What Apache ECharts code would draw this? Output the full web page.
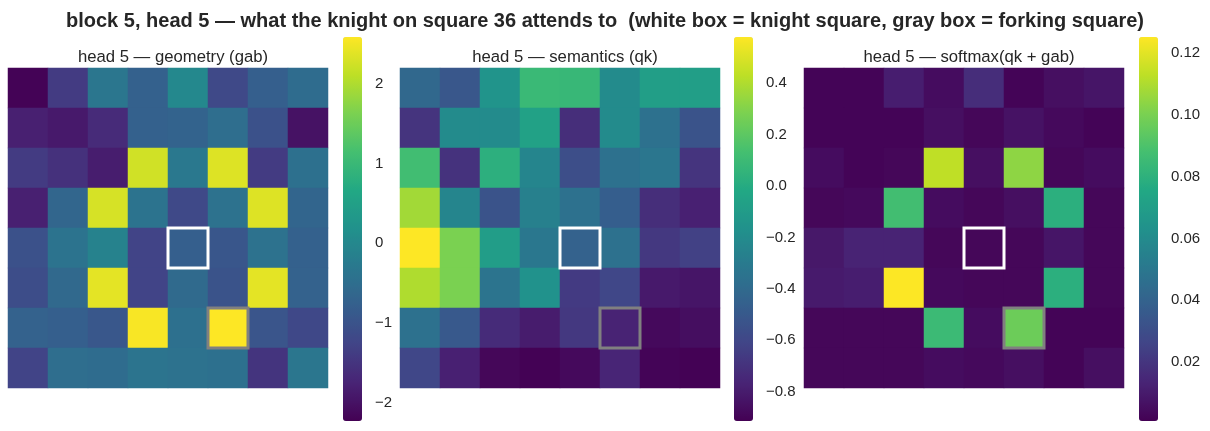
<!DOCTYPE html>
<html lang="en">

<head>
    <meta charset="UTF-8">
    <title>block 5, head 5 — knight attention</title>
    <script src="https://cdn.jsdelivr.net/npm/echarts@6/dist/echarts.min.js"></script>
</head>
<style>
    body {
        margin: 0;
        background: #fff;
    }

    .box {
        width: 1210px;
        height: 431px;
    }
</style>

<body>
    <div class="box" id="myChart"></div>
    <script>
        // 8x8 grids, row 0 at the top
        const geometry = [
            [-2.20, -1.40, -0.35, -0.74, 0.00, -1.17, -0.78, -0.54],
            [-1.80, -1.90, -1.65, -0.74, -0.70, -0.50, -1.03, -2.00],
            [-1.40, -1.55, -1.85, 2.25, -0.30, 2.35, -1.40, -0.45],
            [-1.80, -0.65, 2.30, -0.40, -1.17, -0.42, 2.35, -0.67],
            [-1.03, -0.40, -0.10, -1.27, -0.78, -0.95, -0.42, -0.74],
            [-1.10, -0.60, 2.40, -1.27, -0.58, -1.00, 2.40, -0.72],
            [-0.72, -0.78, -0.93, 2.55, -0.45, 2.59, -0.97, -1.20],
            [-1.27, -0.50, -0.54, -0.38, -0.42, -0.45, -1.50, -0.35]
        ];
        const semantics = [
            [-0.41, -0.51, -0.15, 0.09, 0.08, -0.20, -0.08, -0.08],
            [-0.69, -0.20, -0.20, -0.06, -0.72, -0.20, -0.36, -0.53],
            [0.12, -0.70, 0.03, -0.24, -0.56, -0.36, -0.33, -0.69],
            [0.37, -0.24, -0.53, -0.27, -0.36, -0.47, -0.72, -0.78],
            [0.58, 0.28, -0.09, -0.32, -0.45, -0.36, -0.67, -0.63],
            [0.40, 0.28, -0.34, -0.16, -0.66, -0.60, -0.81, -0.83],
            [-0.36, -0.50, -0.73, -0.80, -0.67, -0.77, -0.88, -0.86],
            [-0.60, -0.78, -0.89, -0.91, -0.88, -0.76, -0.90, -0.91]
        ];
        const softmax = [
            [0.002, 0.002, 0.011, 0.005, 0.017, 0.002, 0.006, 0.008],
            [0.002, 0.002, 0.002, 0.006, 0.003, 0.007, 0.004, 0.002],
            [0.005, 0.002, 0.003, 0.113, 0.006, 0.104, 0.003, 0.005],
            [0.003, 0.004, 0.087, 0.005, 0.003, 0.006, 0.079, 0.003],
            [0.009, 0.013, 0.013, 0.003, 0.003, 0.003, 0.008, 0.003],
            [0.010, 0.011, 0.125, 0.004, 0.003, 0.003, 0.079, 0.003],
            [0.003, 0.003, 0.003, 0.085, 0.005, 0.097, 0.002, 0.002],
            [0.003, 0.003, 0.003, 0.005, 0.004, 0.006, 0.002, 0.006]
        ];
        // colour scale ranges and colourbar ticks
        const ranges = [[-2.23, 2.59], [-0.914, 0.58], [0.001, 0.1251]];
        const cbTicks = [
            [-2, -1, 0, 1, 2],
            [-0.8, -0.6, -0.4, -0.2, 0.0, 0.2, 0.4],
            [0.02, 0.04, 0.06, 0.08, 0.10, 0.12]
        ];
        const cbDigits = [0, 1, 2];
        const panelTitles = ['head 5 — geometry (gab)', 'head 5 — semantics (qk)', 'head 5 — softmax(qk + gab)'];
        const knightCell = [[4, 4]]; // [col, row]
        const forkCell = [[5, 6]];

        const viridis = ['#440154', '#482475', '#414487', '#355f8d', '#2a788e', '#21918c',
            '#22a884', '#44bf70', '#7ad151', '#bddf26', '#fde725'];
        const font = 'Liberation Sans, Arial, sans-serif';
        const ink = '#262626';

        const mapLeft = [8, 400, 804];
        const barLeft = [343, 734, 1139];
        const cells = ['0', '1', '2', '3', '4', '5', '6', '7'];

        function toData(m) {
            let out = [];
            m.forEach((row, r) => row.forEach((v, c) => out.push([c, r, v])));
            return out;
        }

        function fmt(d) {
            return function (v) {
                return (v < -1e-9 ? '\u2212' : '') + Math.abs(v).toFixed(d);
            };
        }

        function boxItem(color) {
            return function (params, api) {
                let p = api.coord([api.value(0), api.value(1)]);
                let s = api.size([1, 1]);
                let w = Math.abs(s[0]),
                    h = Math.abs(s[1]);
                return {
                    type: 'rect',
                    shape: { x: p[0] - w / 2, y: p[1] - h / 2, width: w, height: h },
                    style: { fill: null, stroke: color, lineWidth: 3 },
                    z2: 10
                };
            };
        }

        let grid = [], xAxis = [], yAxis = [], series = [], visualMap = [];
        let title = [{
            text: 'block 5, head 5 — what the knight on square 36 attends to  (white box = knight square, gray box = forking square)',
            left: 'center',
            top: 6,
            textStyle: { fontFamily: font, fontSize: 20, fontWeight: 'bold', color: ink }
        }];
        const mats = [geometry, semantics, softmax];

        mats.forEach((m, i) => {
            // heatmap grid
            grid.push({ left: mapLeft[i], top: 68, width: 320, height: 320 });
            xAxis.push({ type: 'category', gridIndex: 2 * i, data: cells, show: false });
            yAxis.push({ type: 'category', gridIndex: 2 * i, data: cells, inverse: true, show: false });
            // colourbar grid (axis only)
            grid.push({ left: barLeft[i], top: 37, width: 19, height: 384 });
            xAxis.push({ type: 'value', gridIndex: 2 * i + 1, show: false });
            yAxis.push({
                type: 'value',
                gridIndex: 2 * i + 1,
                position: 'right',
                min: ranges[i][0],
                max: ranges[i][1],
                splitLine: { show: false },
                axisLine: { show: false },
                axisTick: {
                    show: true,
                    length: 6,
                    customValues: cbTicks[i],
                    lineStyle: { color: ink, width: 1.3 }
                },
                axisLabel: {
                    customValues: cbTicks[i],
                    formatter: fmt(cbDigits[i]),
                    color: ink,
                    fontFamily: font,
                    fontSize: 15,
                    margin: 13
                }
            });

            series.push({
                name: panelTitles[i],
                type: 'heatmap',
                xAxisIndex: 2 * i,
                yAxisIndex: 2 * i,
                data: toData(m),
                silent: true
            });
            visualMap.push({
                type: 'continuous',
                seriesIndex: series.length - 1,
                min: ranges[i][0],
                max: ranges[i][1],
                inRange: { color: viridis },
                calculable: false,
                hoverLink: false,
                left: barLeft[i],
                top: 37,
                padding: 0,
                itemWidth: 19,
                itemHeight: 384,
                text: null,
                showLabel: false
            });
            series.push({
                type: 'custom',
                xAxisIndex: 2 * i,
                yAxisIndex: 2 * i,
                data: knightCell,
                renderItem: boxItem('#ffffff'),
                silent: true,
                z: 5
            });
            series.push({
                type: 'custom',
                xAxisIndex: 2 * i,
                yAxisIndex: 2 * i,
                data: forkCell,
                renderItem: boxItem('#808080'),
                silent: true,
                z: 5
            });
            title.push({
                text: panelTitles[i],
                left: mapLeft[i] + 160,
                textAlign: 'center',
                top: 44,
                textStyle: { fontFamily: font, fontSize: 16.7, fontWeight: 'normal', color: ink }
            });
        });

        let myEchart = echarts.init(document.getElementById('myChart'));
        myEchart.setOption({
            animation: false,
            backgroundColor: '#ffffff',
            title: title,
            grid: grid,
            xAxis: xAxis,
            yAxis: yAxis,
            visualMap: visualMap,
            series: series
        });
    </script>
</body>

</html>
